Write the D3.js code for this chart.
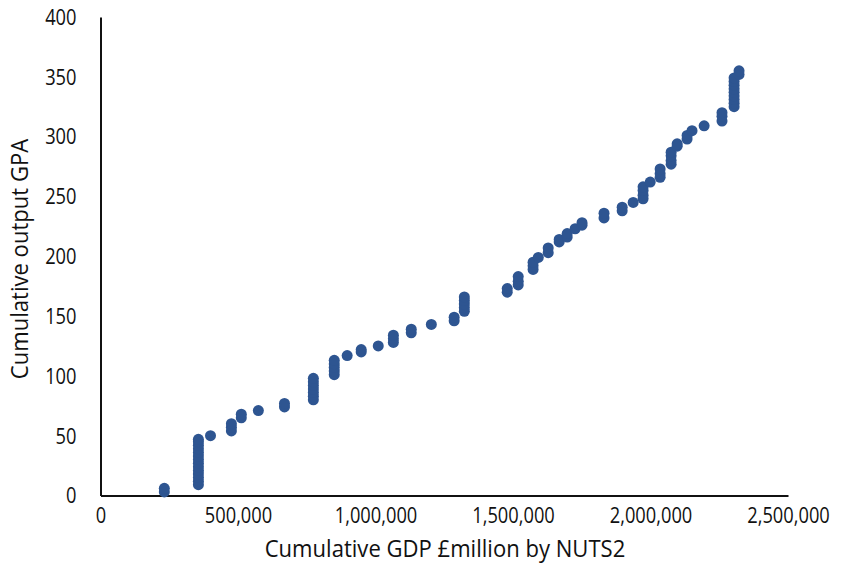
<!DOCTYPE html>
<html>
<head>
<meta charset="utf-8">
<script src="https://cdn.jsdelivr.net/npm/d3@7"></script>
<style>
  html, body { margin: 0; padding: 0; background: #fff; }
  svg text { font-family: "Open Sans", "Noto Sans", sans-serif; fill: #111; }
</style>
</head>
<body>
<svg id="chart" width="841" height="565"></svg>
<script>
// Cumulative GDP (£ million) ranked by NUTS2 region, paired with cumulative GPA output
const cumulativeGdp = [
  232000, 232000,
  356000, 356000, 356000, 356000, 356000, 356000, 356000, 356000, 356000, 356000, 356000, 356000, 356000, 356000,
  400000,
  476000, 476000, 476000,
  512000, 512000,
  574000,
  669000, 669000,
  774000, 774000, 774000, 774000, 774000, 774000, 774000,
  850000, 850000, 850000, 850000, 850000,
  897000,
  948000, 948000,
  1010000,
  1065000, 1065000, 1065000,
  1130000, 1130000,
  1203000,
  1286000, 1286000,
  1323000, 1323000, 1323000, 1323000, 1323000,
  1479000, 1479000,
  1519000, 1519000, 1519000,
  1573000, 1573000, 1573000,
  1592000,
  1628000, 1628000,
  1668000, 1668000,
  1697000, 1697000,
  1726000,
  1751000, 1751000,
  1831000, 1831000,
  1897000, 1897000,
  1937000,
  1973000, 1973000, 1973000, 1973000,
  1999000,
  2035000, 2035000, 2035000,
  2075000, 2075000, 2075000, 2075000,
  2097000, 2097000,
  2133000, 2133000,
  2151000,
  2195000,
  2260000, 2260000, 2260000,
  2304000, 2304000, 2304000, 2304000, 2304000, 2304000, 2304000, 2304000, 2304000,
  2322000, 2322000
];
const cumulativeGpa = [
  3, 6,
  9, 12, 15, 18, 21, 24, 27, 30, 33, 36, 39, 42, 45, 47,
  50,
  54, 57, 60,
  65, 68,
  71,
  74, 77,
  80, 83, 86, 89, 92, 95, 98,
  101, 104, 107, 110, 113,
  117,
  120, 122,
  125,
  128, 131, 134,
  136, 139,
  143,
  146, 149,
  154, 157, 160, 163, 166,
  170, 173,
  176, 179, 183,
  189, 192, 195,
  199,
  203, 207,
  212, 214,
  216, 219,
  223,
  226, 228,
  232, 236,
  238, 241,
  245,
  248, 251, 255, 258,
  262,
  266, 269, 273,
  277, 280, 284, 287,
  292, 294,
  298, 301,
  305,
  309,
  313, 317, 320,
  325, 328, 331, 334, 337, 340, 343, 346, 349,
  352, 355
];
const xTicks = [0, 500000, 1000000, 1500000, 2000000, 2500000];
const yTicks = [0, 50, 100, 150, 200, 250, 300, 350, 400];
const xTitle = "Cumulative GDP \u00A3million by NUTS2";
const yTitle = "Cumulative output GPA";

const svg = d3.select("#chart");
const x = d3.scaleLinear().domain([0, 2500000]).range([100.5, 788]);
const y = d3.scaleLinear().domain([0, 400]).range([495.5, 17]);
const fmt = d3.format(",");

// Text is drawn slightly condensed horizontally
const squeeze = 0.85;
const titleSqueeze = 0.92;

// x axis
const xAxis = svg.append("g")
  .attr("transform", `translate(0,${y(0)})`)
  .call(d3.axisBottom(x).tickValues(xTicks).tickFormat(fmt).tickSize(0));
xAxis.select(".domain").attr("stroke", "#111").attr("stroke-width", 2);
xAxis.selectAll("text")
  .style("font-size", "21.5px")
  .attr("fill", "#111")
  .attr("y", 28).attr("dy", 0)
  .attr("transform", `scale(${squeeze},1)`);

// y axis
const yAxis = svg.append("g")
  .attr("transform", `translate(${x(0)},0)`)
  .call(d3.axisLeft(y).tickValues(yTicks).tickSize(0));
yAxis.select(".domain").attr("stroke", "#111").attr("stroke-width", 2);
yAxis.selectAll("text")
  .style("font-size", "21.5px")
  .attr("fill", "#111")
  .attr("x", -24 / squeeze)
  .attr("dy", "0.34em")
  .attr("transform", `scale(${squeeze},1)`);

// points
svg.append("g")
  .selectAll("circle")
  .data(d3.range(cumulativeGdp.length))
  .join("circle")
  .attr("cx", i => x(cumulativeGdp[i]))
  .attr("cy", i => y(cumulativeGpa[i]))
  .attr("r", 5.5)
  .attr("fill", "#2e5591");

// axis titles
svg.append("text")
  .attr("transform", `translate(445,556.5) scale(${titleSqueeze},1)`)
  .attr("text-anchor", "middle")
  .style("font-size", "24px")
  .text(xTitle);

svg.append("text")
  .attr("transform", `translate(27.5,259) rotate(-90) scale(${titleSqueeze},1)`)
  .attr("text-anchor", "middle")
  .style("font-size", "24px")
  .text(yTitle);
</script>
</body>
</html>
